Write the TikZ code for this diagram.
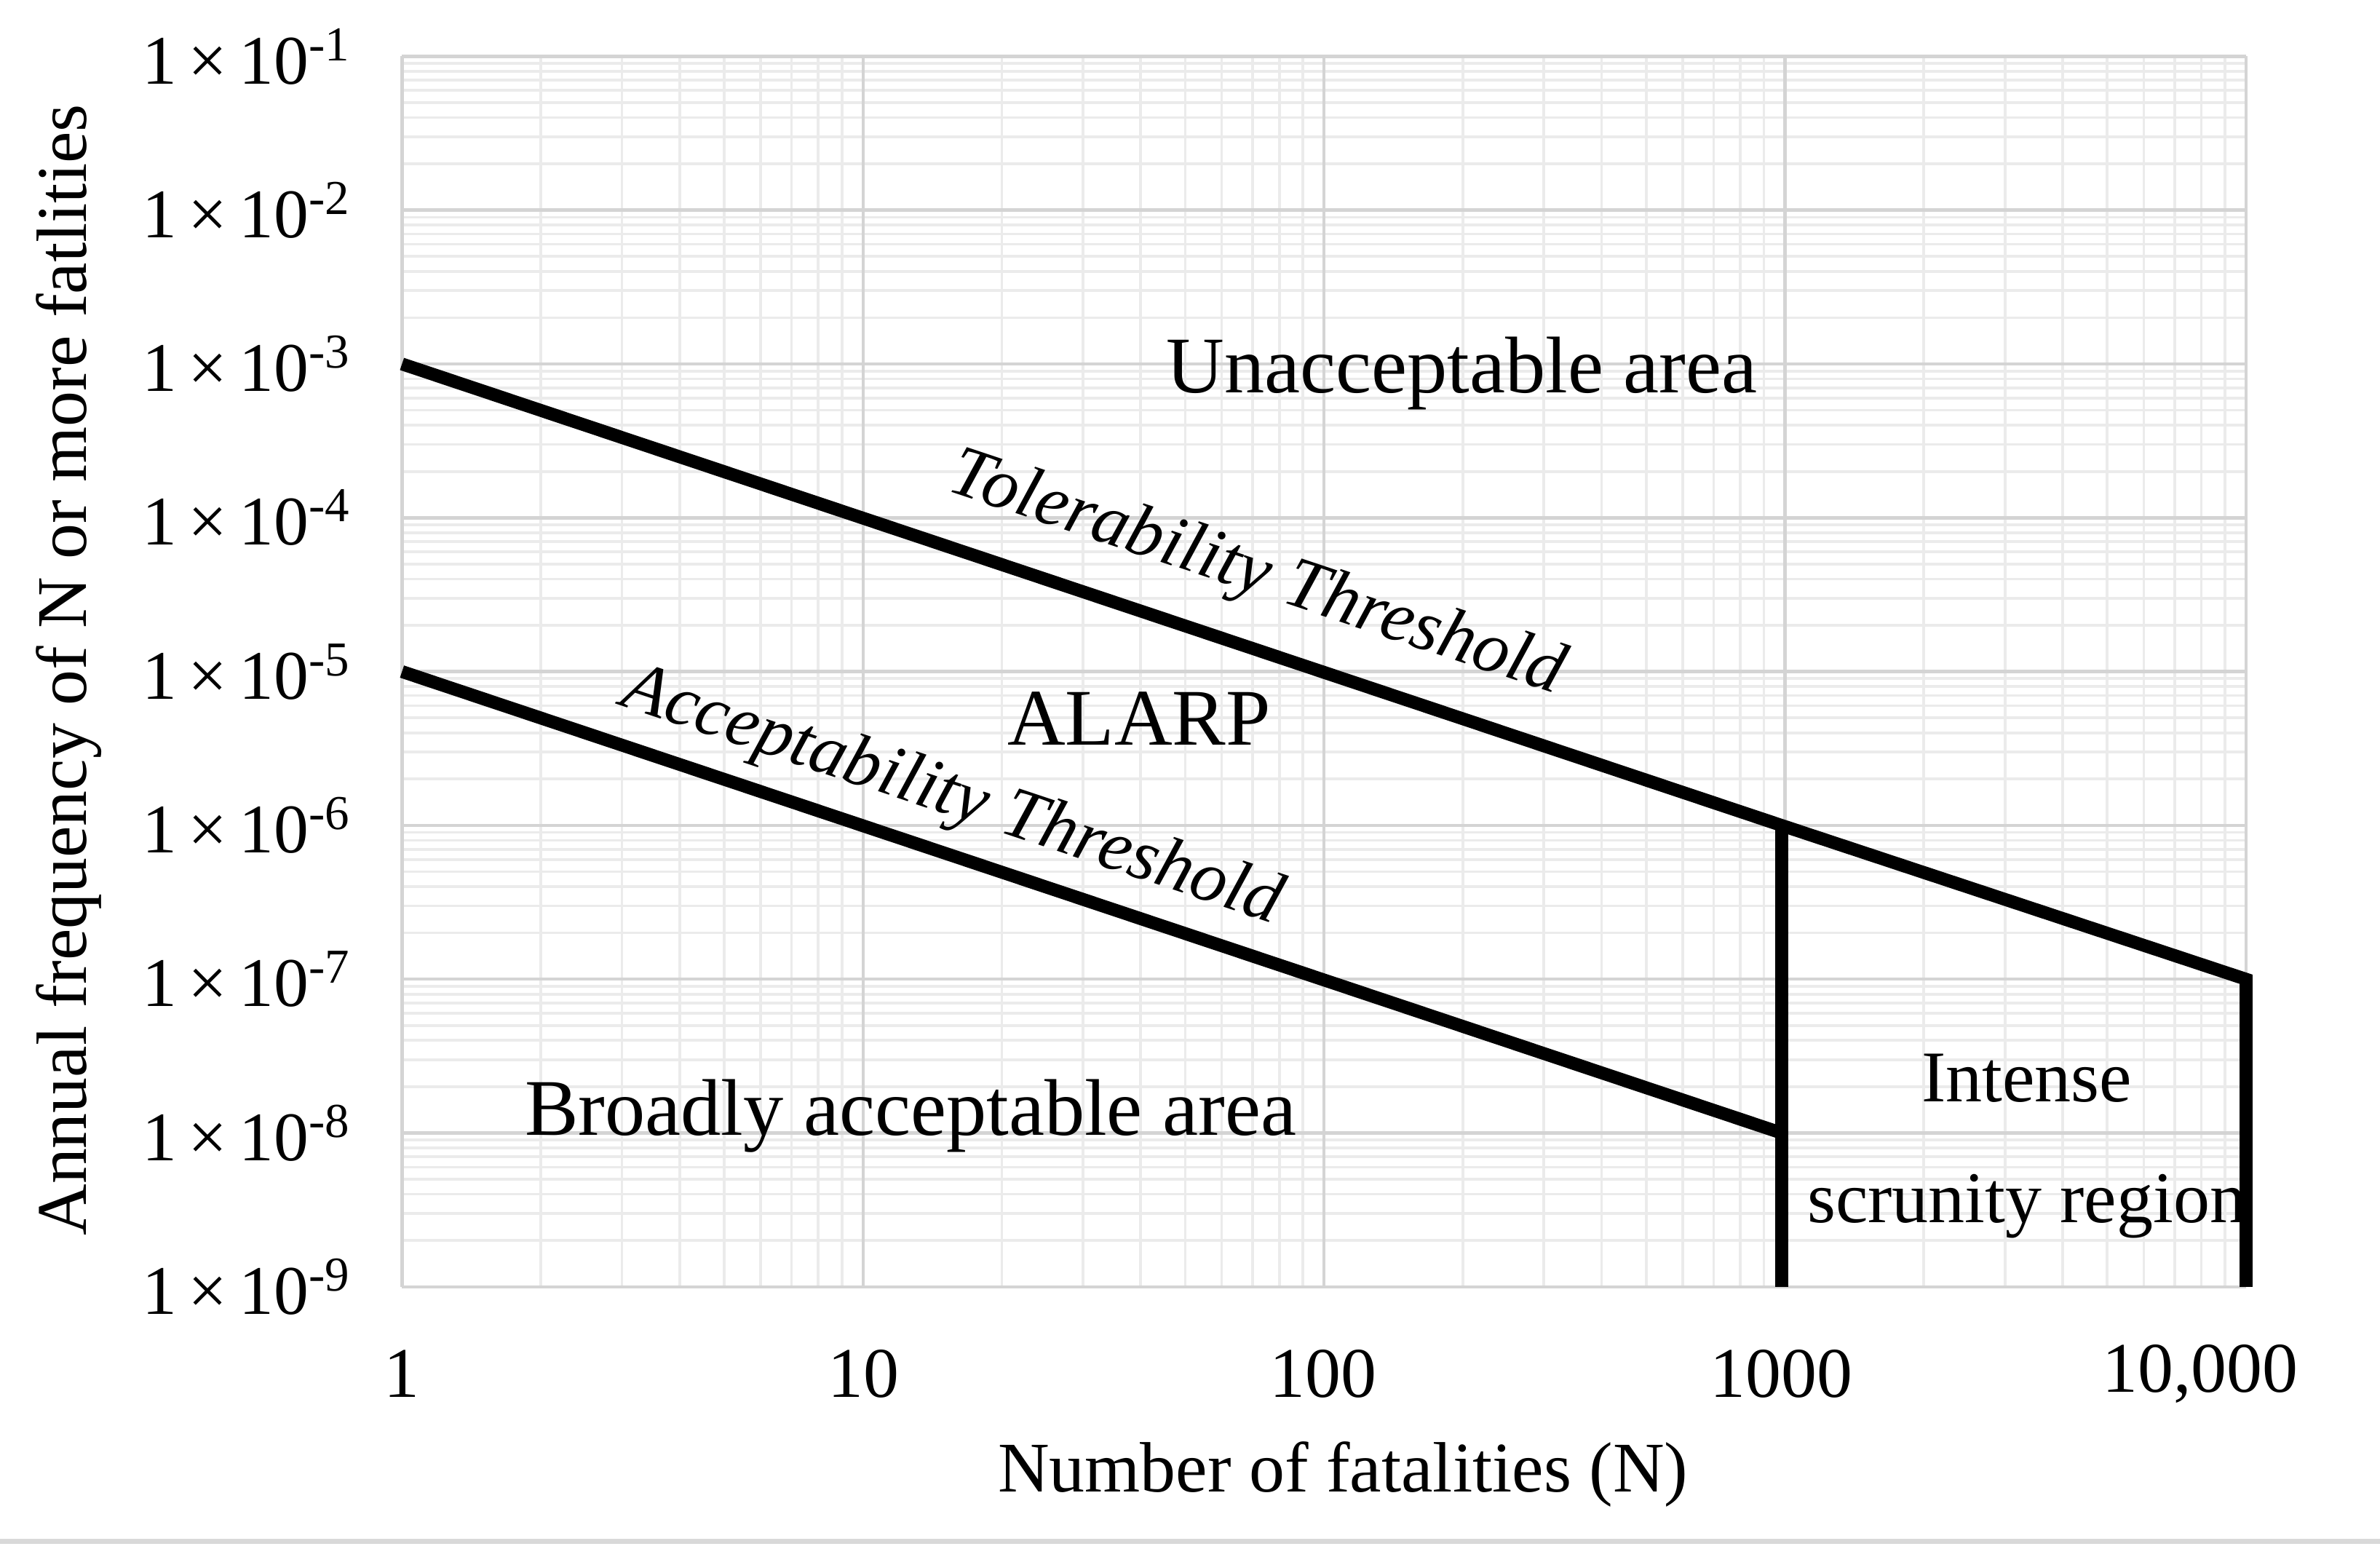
\documentclass[tikz,border=0pt]{standalone}
\usepackage{fontspec}
\setmainfont{Liberation Serif}
\begin{document}
\begin{tikzpicture}[x=0.01cm,y=-0.01cm,
  major/.style={draw=black!17,line width=0.6pt},
  minor/.style={draw=black!8,line width=0.5pt},
  thr/.style={line width=2.4pt,black},
  tick/.style={anchor=east,font=\fontsize{13}{13}\selectfont,inner sep=0pt},
  xtick/.style={font=\fontsize{13.3}{13.3}\selectfont},
  lab/.style={font=\fontsize{15}{15}\selectfont},
  slab/.style={font=\fontsize{13.6}{13.6}\selectfont},
  axl/.style={font=\fontsize{13.3}{13.3}\selectfont},
  thl/.style={font=\fontsize{13.5}{13.5}\selectfont\itshape,rotate=-18.45}]
\useasboundingbox (0,0) rectangle (1563,1022);
\fill[white] (0,0) rectangle (1563,1022);
\draw[black!15,line width=1pt] (0,1012) -- (1563,1012);
% minor grid
\foreach \d in {0,1,2,3}{
  \foreach \m in {2,...,9}{
    \draw[minor] ({264+302.75*(\d+log10(\m))},37) -- ({264+302.75*(\d+log10(\m))},845);
  }}
\foreach \d in {0,...,7}{
  \foreach \m in {2,...,9}{
    \draw[minor] (264,{845-101*(\d+log10(\m))}) -- (1475,{845-101*(\d+log10(\m))});
  }}
% major grid
\foreach \d in {0,...,4}{\draw[major] ({264+302.75*\d},37) -- ({264+302.75*\d},845);}
\foreach \d in {0,...,8}{\draw[major] (264,{37+101*\d}) -- (1475,{37+101*\d});}
% tick labels
\foreach \e [count=\i from 0] in {1,...,9}{
  \node[tick] (t\e) at (232,{37+101*\i}) {1\,×\,10\textsuperscript{-\e}};}
\node[xtick] (x1) at (264,902) {1};
\node[xtick] (x2) at (567,902) {10};
\node[xtick] (x3) at (869,902) {100};
\node[xtick] (x4) at (1170,902) {1000};
\node[xtick] (x5) at (1445,902) {10,000};
\node[axl] (xt) at (882,968) {Number of fatalities (N)};
\node[axl,rotate=90] (yt) at (45,440) {Annual frequency of N or more fatlities};
% thresholds
\coordinate (a) at (264,239); \coordinate (b) at (1170,542); \coordinate (c) at (1475,643);
\coordinate (d) at (264,441); \coordinate (e) at (1170,744);
\coordinate (f) at (1170,845); \coordinate (g) at (1475,845);
\draw[thr] (a) -- (b) -- (c) -- (g);
\draw[thr] (d) -- (e);
\draw[thr] (b) -- (f);
% labels
\node[lab] (un) at (960,245) {Unacceptable area};
\node[thl] (tt) at (825,378) {Tolerability Threshold};
\node[lab] (al) at (748,472) {ALARP};
\node[thl] (at) at (625,524) {Acceptability Threshold};
\node[lab] (br) at (598,733) {Broadly acceptable area};
\node[slab] (in) at (1331,708) {Intense};
\node[slab] (sc) at (1331,792) {scrunity region};
\end{tikzpicture}
\end{document}
